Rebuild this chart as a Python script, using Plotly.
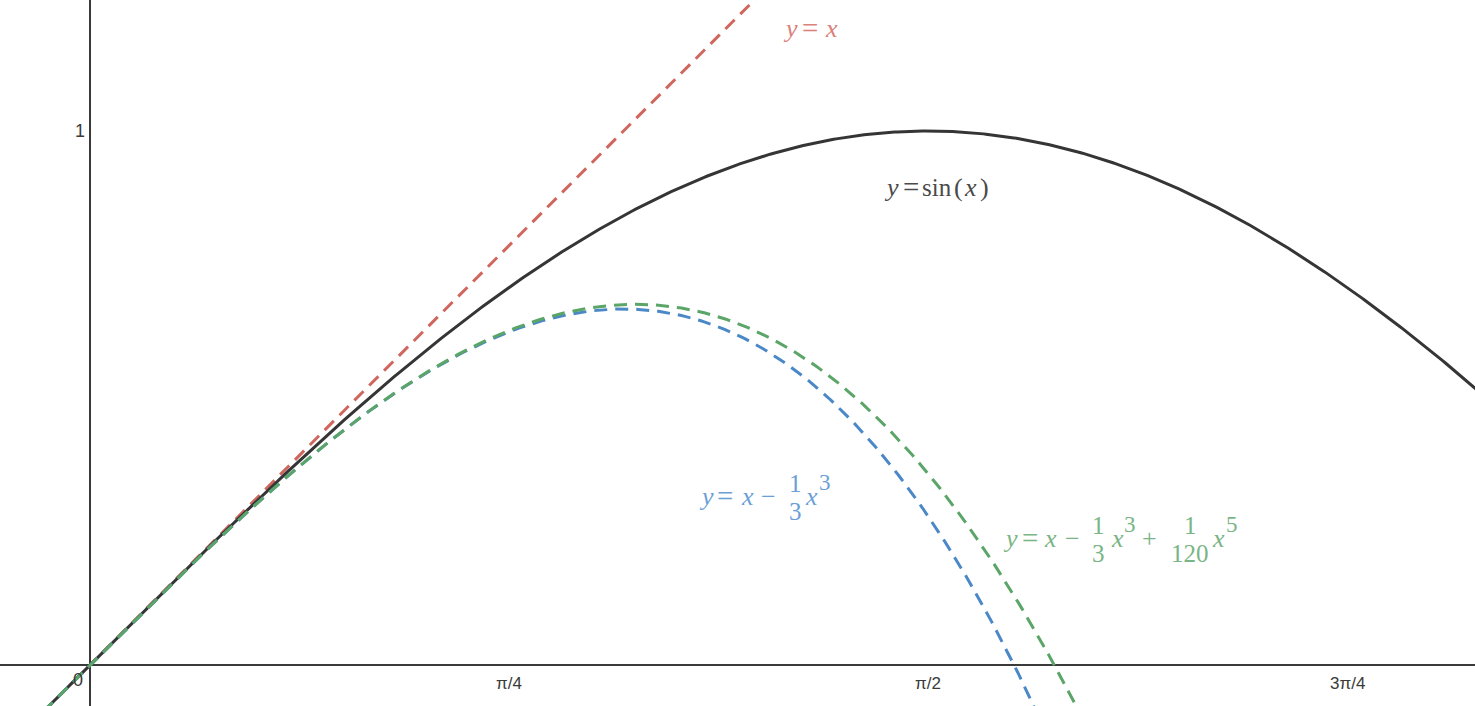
import numpy as np
import plotly.graph_objects as go

# ---- data ----
x_samples = np.linspace(-0.2, 2.65, 600)
curve_names = ["y = x", "y = sin(x)", "y = x - x^3/3", "y = x - x^3/3 + x^5/120"]
y_line = x_samples
y_sin = np.sin(x_samples)
y_t3 = x_samples - x_samples**3 / 3
y_t5 = x_samples - x_samples**3 / 3 + x_samples**5 / 120

tick_vals = [0, np.pi / 4, np.pi / 2, 3 * np.pi / 4]
tick_text = ["0", "π/4", "π/2", "3π/4"]
ytick_vals = [1]
ytick_text = ["1"]

# ---- layout geometry ----
W, H = 1475, 706
X0, X1 = -0.1687, 2.5960
Y0, Y1 = -0.0768, 1.2453


def px(xp):
    return X0 + xp / W * (X1 - X0)


def py(yp):
    return Y1 - yp / H * (Y1 - Y0)


RED, BLACK, BLUE, GREEN = "#d0675f", "#353535", "#4b88c8", "#5aa567"
RED_L, BLACK_L, BLUE_L, GREEN_L = "#da817b", "#4a4a4a", "#6d9fd6", "#79b585"
DASH = "13px,8px"

fig = go.Figure()
fig.add_trace(go.Scatter(x=x_samples, y=y_line, mode="lines",
                         line=dict(color=RED, width=3, dash=DASH), name=curve_names[0]))
fig.add_trace(go.Scatter(x=x_samples, y=y_sin, mode="lines",
                         line=dict(color=BLACK, width=3), name=curve_names[1]))
fig.add_trace(go.Scatter(x=x_samples, y=y_t3, mode="lines",
                         line=dict(color=BLUE, width=3, dash=DASH), name=curve_names[2]))
fig.add_trace(go.Scatter(x=x_samples, y=y_t5, mode="lines",
                         line=dict(color=GREEN, width=3, dash=DASH), name=curve_names[3]))

ann = []
SERIF = "Liberation Serif"
MAIN = 26
EQ = 29
FR = 25
SUP = 23


def tok(xc, yc, text, color, size=MAIN):
    ann.append(dict(x=px(xc), y=py(yc), text=text, showarrow=False, xanchor="center",
                    yanchor="middle", font=dict(family=SERIF, size=size, color=color)))


def label(yc, toks, color):
    for xc, t, kind in toks:
        if kind == "m":
            tok(xc, yc, t, color, MAIN)
        elif kind == "eq":
            tok(xc, yc, t, color, EQ)
        elif kind == "fn":
            tok(xc, yc, t, color, 25)
        elif kind == "sup":
            tok(xc, yc - 14, t, color, SUP)
        elif kind == "num":
            tok(xc, yc - 13, t, color, FR)
        elif kind == "den":
            tok(xc, yc + 15, t, color, FR)


# tick labels
TF = "Liberation Sans"
TC = "#3a3a3a"
TS = 18
for v, t in zip(tick_vals, tick_text):
    if v == 0:
        ann.append(dict(x=px(78), y=py(680), text=t, showarrow=False, xanchor="center",
                        yanchor="middle", font=dict(family=TF, size=TS, color=TC)))
    else:
        ann.append(dict(x=v, y=py(683), text=t, showarrow=False, xanchor="center", yanchor="middle",
                        font=dict(family=TF, size=TS - 1, color=TC)))
for v, t in zip(ytick_vals, ytick_text):
    ann.append(dict(x=px(80), y=v, text=t, showarrow=False, xanchor="center", yanchor="middle",
                    font=dict(family=TF, size=TS, color=TC)))

# curve labels
label(28, [(790, "<i>y</i>", "m"), (810, "=", "eq"), (831, "<i>x</i>", "m")], RED_L)
label(187, [(891, "<i>y</i>", "m"), (911, "=", "eq"), (937, "sin", "fn"),
            (958, "(", "m"), (970, "<i>x</i>", "m"), (984, ")", "m")], BLACK_L)
label(496, [(706, "<i>y</i>", "m"), (725, "=", "eq"), (747, "<i>x</i>", "m"), (768, "−", "m"),
            (795, "1", "num"), (795, "3", "den"), (811, "<i>x</i>", "m"), (825, "3", "sup")], BLUE_L)
label(538, [(1010, "<i>y</i>", "m"), (1030, "=", "eq"), (1050, "<i>x</i>", "m"), (1072, "−", "m"),
            (1098, "1", "num"), (1098, "3", "den"), (1117, "<i>x</i>", "m"), (1130, "3", "sup"),
            (1149, "+", "m"), (1190, "1", "num"), (1190, "120", "den"),
            (1218, "<i>x</i>", "m"), (1232, "5", "sup")], GREEN_L)

fig.update_layout(
    width=W, height=H, margin=dict(l=0, r=0, t=0, b=0),
    paper_bgcolor="white", plot_bgcolor="white", showlegend=False,
    annotations=ann,
    xaxis=dict(range=[X0, X1], showgrid=False, showticklabels=False, ticks="",
               zeroline=True, zerolinecolor="#3a3a3a", zerolinewidth=1.6, fixedrange=True),
    yaxis=dict(range=[Y0, Y1], showgrid=False, showticklabels=False, ticks="",
               zeroline=True, zerolinecolor="#3a3a3a", zerolinewidth=1.6, fixedrange=True),
)

fig.write_html("out.html", post_script="document.body.style.margin='0';",
               config={"displayModeBar": False})
